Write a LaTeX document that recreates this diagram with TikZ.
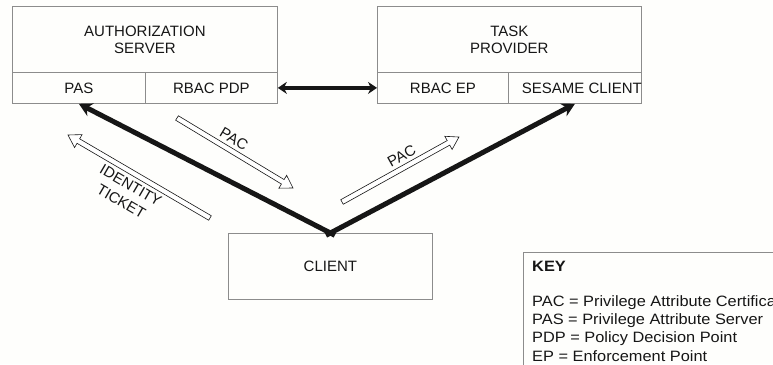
\documentclass[tikz,border=0pt]{standalone}
\usepackage{fontspec}
\setmainfont{Liberation Sans}
\newfontfamily\keyfont[FakeStretch=1.09]{Liberation Sans}
\usetikzlibrary{arrows.meta,calc}
\definecolor{ink}{HTML}{161616}
\definecolor{boxgrey}{HTML}{8C8C8C}
\definecolor{paper}{HTML}{FEFEFC}
\begin{document}
\begin{tikzpicture}[x=1pt,y=1pt,
  box/.style={draw=boxgrey, line width=0.8pt, inner sep=0pt, anchor=north west,
    font=\fontsize{15}{17}\selectfont, text=ink, align=center},
  cell/.style={box, minimum height=31pt},
  lbl/.style={font=\fontsize{15}{19}\selectfont, text=ink, inner sep=0pt, align=center},
  keyline/.style={font=\keyfont\fontsize{15}{18}\selectfont, text=ink, anchor=base west, inner sep=0pt},
  heavy/.style={draw=ink, line width=5pt, -{Stealth[length=13pt,width=14pt]}},
  link/.style={draw=ink, line width=4pt, {Stealth[length=9pt,width=12pt]}-{Stealth[length=9pt,width=12pt]}},
  hollow/.style={draw=ink, line width=0.6pt, fill=white, line join=miter},
  hollowarrow/.pic={\draw[hollow] (0,-2.6) -- (#1-12,-2.6) -- (#1-12,-7.5) -- (#1,0)
      -- (#1-12,7.5) -- (#1-12,2.6) -- (0,2.6) -- cycle;}
]
\useasboundingbox (0,0) rectangle (773,364);
\clip (0,0) rectangle (773,364);
\fill[paper] (0,0) rectangle (773,364);

% authorization server and its two components
\node[box, minimum width=265pt, minimum height=66pt] (auth) at (12,358) {AUTHORIZATION\\SERVER};
\node[cell, minimum width=133pt] (pas) at (12,292) {PAS};
\node[cell, minimum width=132pt] (rbacpdp) at (145,292) {RBAC PDP};

% task provider and its two components
\node[box, minimum width=264pt, minimum height=66pt] (task) at (377,358) {TASK\\PROVIDER};
\node[cell, minimum width=131pt] (rbacep) at (377,292) {RBAC EP};
\node[cell, minimum width=133pt,
  label={[lbl, xshift=7pt]center:SESAME CLIENT}] (sesame) at (508,292) {};

% client
\node[box, minimum width=204pt, minimum height=66pt] (client) at (228,131) {CLIENT};

% key box (runs off the page edge)
\node[box, minimum width=270pt, minimum height=150pt] (key) at (523,112) {};
\node[keyline, font=\keyfont\bfseries\fontsize{15}{18}\selectfont] (khead) at (532,92) {KEY};
\node[keyline] (k1) at (532,58) {PAC = Privilege Attribute Certificate};
\node[keyline] (k2) at (532,40) {PAS = Privilege Attribute Server};
\node[keyline] (k3) at (532,21.5) {PDP = Policy Decision Point};
\node[keyline] (k4) at (532,3) {EP = Enforcement Point};

% connectors
\draw[link] (rbacpdp.east) -- (rbacep.west);
\draw[heavy] ($(client.north)!-5pt!(pas.south)$) -- (pas.south);
\draw[heavy] ($(client.north)!-5pt!(sesame.south)$) -- (sesame.south);

% message flows
\coordinate (pacLtail) at (177,246);
\coordinate (idtail) at (210,146);
\coordinate (pacRtail) at (342,162);
\pic[rotate=-31.1] at (pacLtail) {hollowarrow=135.5};
\pic[rotate=149.7] at (idtail) {hollowarrow=164.5};
\pic[rotate=29.05] at (pacRtail) {hollowarrow=133.8};

\node[lbl, rotate=-31] (pacL) at (234,225) {PAC};
\node[lbl, rotate=29] (pacR) at (401.5,208) {PAC};
\node[lbl, rotate=-30.3] (idt) at (126,170.5) {IDENTITY\\TICKET};
\end{tikzpicture}
\end{document}
